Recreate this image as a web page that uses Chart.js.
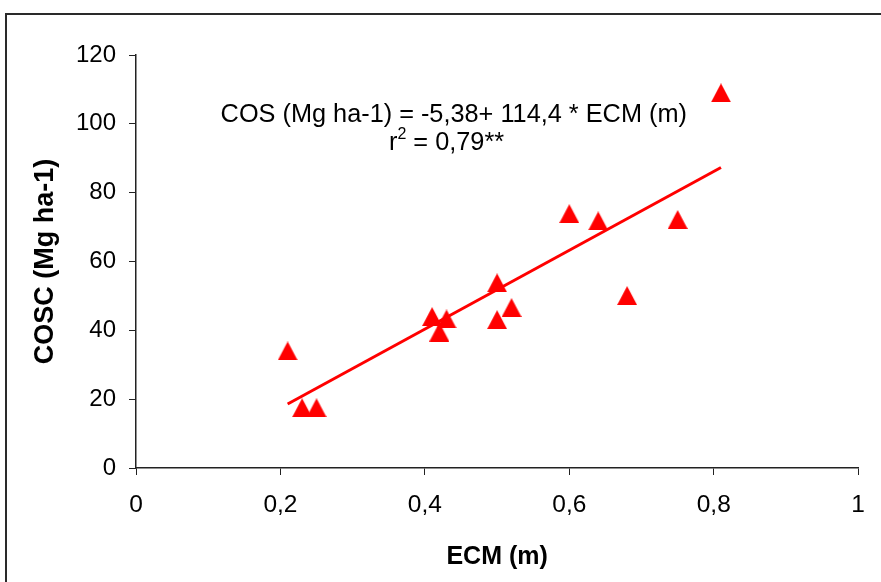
<!DOCTYPE html>
<html>
<head>
<meta charset="utf-8">
<script src="https://cdn.jsdelivr.net/npm/chart.js@4/dist/chart.umd.min.js"></script>
<style>
  html, body { margin: 0; padding: 0; background: #fff; }
  #wrap { width: 881px; height: 582px; position: relative; }
</style>
</head>
<body>
<div id="wrap"><canvas id="c" width="881" height="582"></canvas></div>
<script>
// ---- Data ----
const ecm  = [0.21, 0.23, 0.25, 0.41, 0.42, 0.43, 0.50, 0.50, 0.52, 0.60, 0.64, 0.68, 0.75, 0.81];
const cosc = [34.0, 17.5, 17.5, 44.0, 39.5, 43.3, 43.1, 53.8, 46.6, 73.9, 71.8, 50.1, 72.2, 109.0];
// fitted line endpoints, as drawn in the reference
const fitX = [0.21, 0.81];
const fitY = [18.6, 87.3];
const xTicks = [0, 0.2, 0.4, 0.6, 0.8, 1];
const yTicks = [0, 20, 40, 60, 80, 100, 120];
const equationText = 'COS (Mg ha-1) = -5,38+ 114,4 * ECM (m)';
const r2Base = 'r';
const r2Sup = '2';
const r2Rest = ' = 0,79**';
const xTitle = 'ECM (m)';
const yTitle = 'COSC (Mg ha-1)';

// triangle marker image (bbox centred on the data point)
const tri = document.createElement('canvas');
tri.width = 20; tri.height = 19;
(function () {
  const g = tri.getContext('2d');
  g.fillStyle = '#ff0000';
  g.beginPath();
  g.moveTo(10, 0); g.lineTo(20, 19); g.lineTo(0, 19); g.closePath();
  g.fill();
})();

const FONT = "Arial, 'Liberation Sans', sans-serif";

const framePlugin = {
  id: 'frame',
  beforeDraw(chart) {
    const ctx = chart.ctx;
    ctx.save();
    ctx.fillStyle = '#fff';
    ctx.fillRect(0, 0, chart.width, chart.height);
    ctx.fillStyle = '#2a2a2a';
    ctx.fillRect(5, 13, chart.width, 2);
    ctx.fillRect(5, 13, 2, chart.height);
    ctx.restore();
  },
  afterDatasetsDraw(chart) {
    const ctx = chart.ctx;
    const xs = chart.scales.x, ys = chart.scales.y;
    ctx.save();
    ctx.fillStyle = '#000';
    ctx.textBaseline = 'middle';
    ctx.textAlign = 'center';
    ctx.font = '25.3px ' + FONT;
    ctx.fillText(equationText, xs.getPixelForValue(0.44), ys.getPixelForValue(102.5));
    // r^2 line, centred
    const big = '25.3px ' + FONT, small = '16px ' + FONT;
    ctx.textAlign = 'left';
    ctx.font = big; const wr = ctx.measureText(r2Base).width;
    const wrest = ctx.measureText(r2Rest).width;
    ctx.font = small; const ws = ctx.measureText(r2Sup).width;
    const total = wr + ws + wrest;
    const cx = xs.getPixelForValue(0.43), cy = ys.getPixelForValue(94.4);
    let x0 = cx - total / 2;
    ctx.font = big; ctx.fillText(r2Base, x0, cy);
    ctx.font = small; ctx.fillText(r2Sup, x0 + wr, cy - 9);
    ctx.font = big; ctx.fillText(r2Rest, x0 + wr + ws, cy);
    ctx.restore();
  }
};

const fmt = v => String(Math.round(v * 10) / 10).replace('.', ',');

new Chart(document.getElementById('c'), {
  type: 'scatter',
  data: {
    datasets: [
      {
        type: 'line',
        data: fitX.map((x, i) => ({ x: x, y: fitY[i] })),
        borderColor: '#ff0000',
        borderWidth: 3,
        pointRadius: 0,
        fill: false,
        order: 2
      },
      {
        data: ecm.map((x, i) => ({ x: x, y: cosc[i] })),
        pointStyle: tri,
        backgroundColor: '#ff0000',
        borderColor: '#ff0000',
        order: 1
      }
    ]
  },
  plugins: [framePlugin],
  options: {
    responsive: false,
    animation: false,
    events: [],
    layout: { padding: { left: 0, right: 21, top: 55, bottom: 0 } },
    plugins: { legend: { display: false }, tooltip: { enabled: false } },
    scales: {
      x: {
        type: 'linear',
        min: 0, max: 1,
        afterBuildTicks: s => { s.ticks = xTicks.map(v => ({ value: v })); },
        afterFit: s => { s.height = 114; },
        grid: { drawOnChartArea: false, drawTicks: true, tickLength: 7, color: '#222', lineWidth: 1 },
        border: { display: true, color: '#222', width: 1.5 },
        ticks: { color: '#000', font: { family: FONT, size: 24.5 }, padding: 16, maxRotation: 0, callback: v => fmt(v) },
        title: { display: true, text: xTitle, color: '#000', font: { family: FONT, size: 25, weight: 'bold' }, padding: { top: 0, bottom: 10 } }
      },
      y: {
        type: 'linear',
        min: 0, max: 120,
        afterBuildTicks: s => { s.ticks = yTicks.map(v => ({ value: v })); },
        afterFit: s => { s.width = 136; },
        grid: { drawOnChartArea: false, drawTicks: true, tickLength: 7, color: '#222', lineWidth: 1 },
        border: { display: true, color: '#222', width: 1.5 },
        ticks: { color: '#000', font: { family: FONT, size: 24 }, padding: 13, callback: v => fmt(v) },
        title: { display: true, text: yTitle, color: '#000', font: { family: FONT, size: 27, weight: 'bold' }, padding: { top: 29, bottom: 0 } }
      }
    }
  }
});
</script>
</body>
</html>
